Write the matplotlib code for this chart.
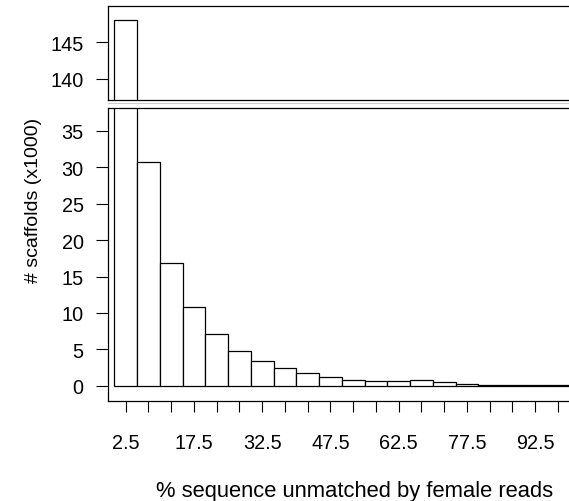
import matplotlib.pyplot as plt
from matplotlib.lines import Line2D

plt.rcParams['font.family'] = ['Liberation Sans', 'DejaVu Sans']

# bins of % sequence unmatched (width 5), counts in thousands
bin_left = [0, 5, 10, 15, 20, 25, 30, 35, 40, 45, 50, 55, 60, 65, 70, 75, 80, 85, 90, 95]
counts = [148.0, 30.7, 16.9, 10.8, 7.15, 4.8, 3.4, 2.4, 1.75, 1.25, 0.8, 0.65, 0.7,
          0.8, 0.55, 0.2, 0.1, 0.08, 0.05, 0.03]
bin_width = 5
tick_pos = [b + 2.5 for b in bin_left]
tick_labels = [f'{t:g}' if i % 3 == 0 else '' for i, t in enumerate(tick_pos)]

fig = plt.figure(figsize=(5.69, 5.02), dpi=100)
ax_top = fig.add_axes([0.1898, 0.7988, 0.8188, 0.1867])
ax_bot = fig.add_axes([0.1898, 0.1992, 0.8188, 0.5837])

for ax in (ax_top, ax_bot):
    ax.bar(bin_left, counts, width=bin_width, align='edge', color='white',
           edgecolor='black', linewidth=0.9)
    ax.set_xlim(-1.4, 101)
    for s in ax.spines.values():
        s.set_linewidth(0.9)
    ax.spines['right'].set_visible(False)
    ax.tick_params(axis='y', length=8.6, width=0.8, labelsize=14.3, pad=9)

ax_top.set_ylim(137.14, 149.9)
ax_top.set_yticks([140, 145])
ax_top.set_xticks([])

ax_bot.set_ylim(-2.1, 38.15)
ax_bot.set_yticks(range(0, 40, 5))
ax_bot.set_xticks(tick_pos)
ax_bot.set_xticklabels(tick_labels)
ax_bot.tick_params(axis='x', length=8, width=0.8, labelsize=14.3, pad=15)

# faint line in the gap between the two panels
fig.add_artist(Line2D([0.1898, 1.0], [0.793, 0.793], color='#cccccc', linewidth=0.8))

fig.text(0.624, 0.0094, '% sequence unmatched by female reads', fontsize=15.8,
         ha='center', va='baseline')
fig.text(0.058, 0.6016, '# scaffolds (x1000)', rotation=90, fontsize=14,
         ha='center', va='center')

fig.savefig('out.png', dpi=100)
